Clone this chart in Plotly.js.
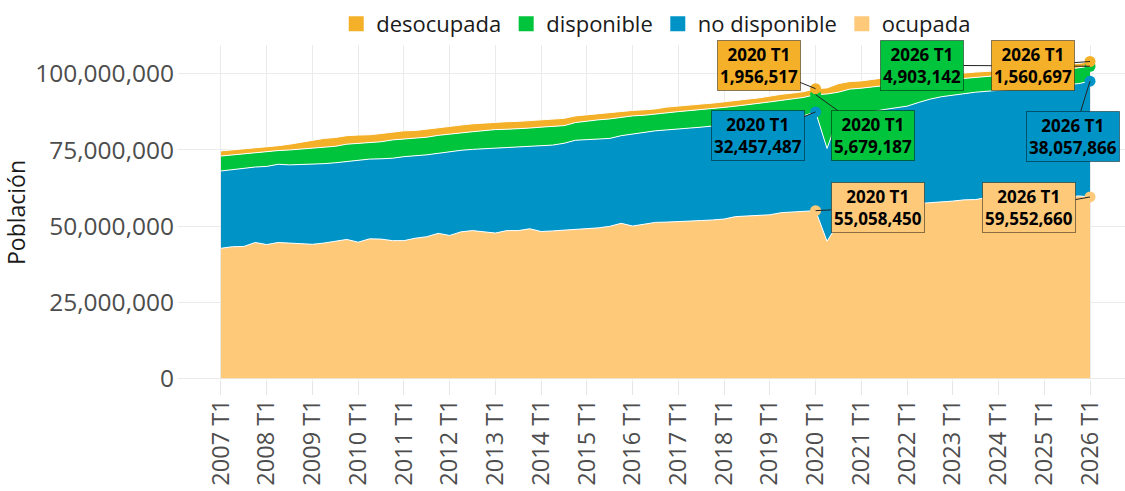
<!DOCTYPE html>
<html>
<head>
<meta charset="utf-8">
<script src="https://cdn.plot.ly/plotly-3.0.1.min.js"></script>
<style>html,body{margin:0;padding:0;background:#fff;}#chart{width:1125px;height:491px;}</style>
</head>
<body>
<div id="chart"></div>
<script>
// Periods: 2007 T1 .. 2026 T1
const years = [2007,2008,2009,2010,2011,2012,2013,2014,2015,2016,2017,2018,2019,2020,2021,2022,2023,2024,2025,2026];
const quarters = ["T1","T2","T3","T4"];
const periodos = [];
years.forEach(y => quarters.forEach(q => { if (!(y === 2026 && q !== "T1")) periodos.push(y + " " + q); }));
const tickLabels = years.map(y => y + " T1");

// Values in millions of people
const ocupada = [
42.7,43.2,43.3,44.6, 43.9,44.6,44.4,44.2, 44.0,44.4,45.1,45.6, 44.7,45.8,45.7,45.2,
45.2,46.0,46.5,47.6, 46.9,48.1,48.5,48.1, 47.7,48.5,48.5,49.1, 48.2,48.4,48.6,49.0,
49.0,49.4,49.9,50.9, 50.0,50.7,51.2,51.3, 51.4,51.5,51.8,52.0, 52.3,53.1,53.3,53.5,
53.7,54.4,54.6,55.0, 55.05845,45.0,51.0,53.3, 53.6,55.2,55.8,57.0, 56.4,57.4,57.6,57.9,
58.2,58.6,58.7,59.4, 58.9,59.5,59.4,59.8, 59.3,59.6,59.4,59.9, 59.55266];
const noDisponible = [
25.4,25.4,25.7,24.8, 25.7,25.7,25.7,26.0, 26.3,26.1,25.7,25.6, 26.9,26.2,26.4,27.1,
27.6,27.0,26.9,26.3, 27.6,26.8,26.7,27.3, 27.8,27.2,27.5,27.1, 28.2,28.2,28.6,29.2,
29.4,29.3,28.9,28.8, 30.3,30.0,30.1,30.3, 30.6,30.7,30.7,30.9, 31.0,30.7,30.9,31.0,
31.2,30.8,30.9,31.3, 32.457487,30.5,34.9,33.6, 33.6,32.4,32.5,31.9, 33.0,33.2,34.1,34.6,
34.8,35.0,35.3,34.9, 35.7,35.4,35.8,35.7, 36.5,36.5,37.0,36.9, 38.057866];
const disponible = [
4.9,4.8,4.7,4.7, 4.9,4.5,4.9,5.1, 5.5,5.6,5.4,5.7, 5.5,5.4,5.6,6.0,
5.8,5.8,5.8,5.9, 5.8,5.7,5.8,6.0, 6.2,6.1,5.9,6.0, 6.1,6.1,5.8,5.8,
6.1,6.2,6.4,6.1, 5.9,5.7,5.4,5.6, 5.6,5.7,5.8,5.7, 5.7,5.6,5.6,5.8,
5.9,6.1,6.3,6.0, 5.679187,17.9,8.1,8.1, 8.1,8.2,7.9,7.7, 7.5,6.7,6.0,5.5,
5.2,4.9,4.8,4.9, 4.8,4.8,4.8,4.9, 4.9,5.0,5.1,5.2, 4.903142];
const desocupada = [
1.7,1.6,1.6,1.7, 1.6,1.6,1.9,2.2, 2.5,2.7,2.9,2.8, 2.8,2.6,2.7,2.6,
2.7,2.6,2.7,2.6, 2.5,2.6,2.6,2.5, 2.5,2.5,2.5,2.4, 2.3,2.3,2.4,2.2,
2.1,2.0,2.0,1.8, 1.8,1.8,1.8,1.9, 1.9,1.8,1.8,1.8, 1.9,1.8,1.9,1.8,
2.0,2.0,1.9,1.9, 1.956517,2.0,2.8,2.5, 2.4,2.4,2.5,2.1, 1.9,1.9,1.9,1.7,
1.7,1.8,1.8,1.6, 1.6,1.6,1.8,1.5, 1.5,1.6,1.7,1.4, 1.560697];

const labelPeriods = ["2020 T1", "2026 T1"];

const series = [
  {name: "ocupada", vals: ocupada, color: "#FEC979"},
  {name: "no disponible", vals: noDisponible, color: "#0094C6"},
  {name: "disponible", vals: disponible, color: "#00C43C"},
  {name: "desocupada", vals: desocupada, color: "#F4B028"}
];

// annotation box offsets (pixels) per series per labelled period
const offsets = {
  "ocupada": [[62,-3],[-61,11]],
  "no disponible": [[-58,24],[-17,55]],
  "disponible": [[57,41],[-168,-1]],
  "desocupada": [[-57,-23],[-57,4]]
};

const traces = [];
const annotations = [];
const cum = periodos.map(() => 0);
const fmt = n => n.toLocaleString("en-US");

series.forEach(s => {
  const yv = s.vals.map(v => Math.round(v * 1e6));
  yv.forEach((v, i) => cum[i] += v);
  traces.push({
    type: "scatter", mode: "lines", x: periodos, y: yv, name: s.name,
    stackgroup: "one", line: {color: "#ffffff", width: 1},
    fillcolor: s.color, showlegend: false, hoverinfo: "skip"
  });
  const px = [], py = [];
  labelPeriods.forEach((p, k) => {
    const i = periodos.indexOf(p);
    px.push(p); py.push(cum[i]);
    annotations.push({
      x: p, y: cum[i], xref: "x", yref: "y",
      text: "<b>" + p + "<br>" + fmt(yv[i]) + "</b>",
      showarrow: true, arrowhead: 0, arrowwidth: 1, arrowcolor: "#222",
      ax: offsets[s.name][k][0], ay: offsets[s.name][k][1],
      bgcolor: s.color, bordercolor: "rgba(0,0,0,0.45)", borderwidth: 1, borderpad: 2,
      font: {family: "Open Sans, sans-serif", size: 17, color: "#000"}
    });
  });
  traces.push({
    type: "scatter", mode: "markers", x: px, y: py,
    marker: {color: s.color, size: 11}, showlegend: false, hoverinfo: "skip"
  });
});

// legend entries (square swatches)
[...series].reverse().forEach(s => {
  traces.push({
    type: "scatter", mode: "markers", x: [null], y: [null], name: s.name,
    marker: {symbol: "square", size: 15, color: s.color}, showlegend: true
  });
});

const layout = {
  width: 1125, height: 491,
  margin: {l: 178, r: 0, t: 45, b: 111},
  paper_bgcolor: "#fff", plot_bgcolor: "#fff",
  font: {family: "Open Sans, sans-serif", color: "#1a1a1a"},
  showlegend: true,
  legend: {orientation: "h", x: 0.505, xanchor: "center", y: 1.0, yanchor: "bottom",
           font: {size: 22, color: "#1a1a1a"}, itemwidth: 30, traceorder: "normal"},
  xaxis: {
    type: "category", categoryorder: "array", categoryarray: periodos,
    range: [-3.76, 79.06], tickvals: tickLabels, ticktext: tickLabels,
    tickangle: -90, ticks: "outside", ticklen: 14, tickcolor: "#e6e6e6",
    ticklabelstandoff: -5,
    showgrid: true, gridcolor: "#ebebeb", zeroline: false, showline: false,
    tickfont: {size: 23.5, color: "#4d4d4d"}
  },
  yaxis: {
    range: [-0.6e6, 109.5e6], tickvals: [0, 25e6, 50e6, 75e6, 100e6],
    tickformat: ",d", ticks: "", showgrid: true, gridcolor: "#ebebeb",
    zeroline: false, showline: false, ticklabelstandoff: 3,
    tickfont: {size: 24.5, color: "#4d4d4d"},
    title: {text: "Población", font: {size: 23, color: "#1a1a1a"}, standoff: 8}
  },
  annotations: annotations
};

Plotly.newPlot("chart", traces, layout, {displayModeBar: false, staticPlot: true});
</script>
</body>
</html>
